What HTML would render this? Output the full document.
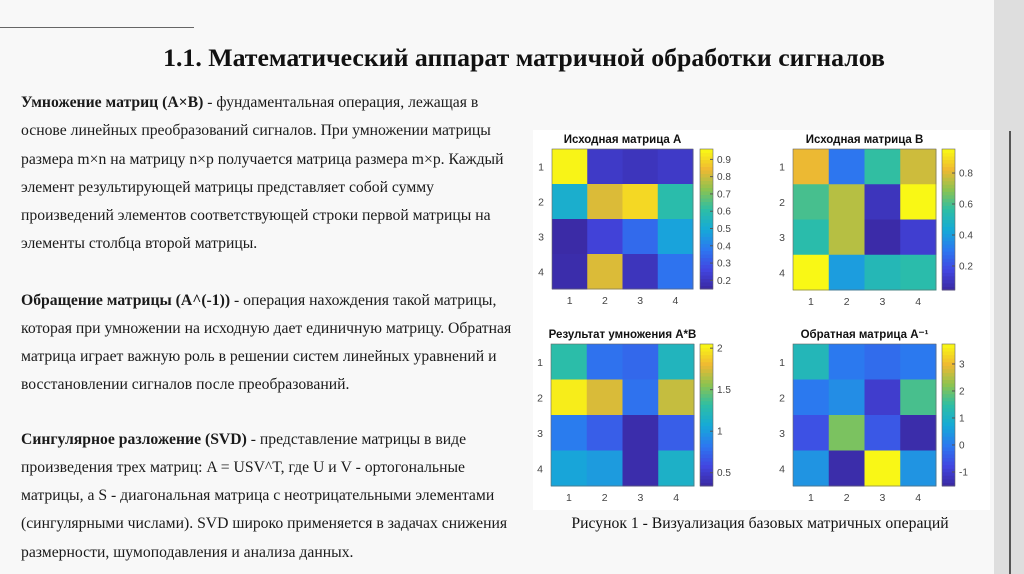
<!DOCTYPE html>
<html><head><meta charset="utf-8">
<style>
body{margin:0;width:1024px;height:574px;overflow:hidden;background:#f8f8f8;font-family:"Liberation Serif",serif;position:relative;color:#111}
.l{position:absolute;left:21px;font-size:15.7px;white-space:nowrap;line-height:18px;color:#1a1a1a}
#strip{position:absolute;left:994px;top:0;width:30px;height:574px;background:#dedede}
#vline{position:absolute;left:1009px;top:131px;width:2px;height:443px;background:#555}
#hline{position:absolute;left:0;top:27px;width:194px;height:1px;background:#666}
h1{position:absolute;left:0;width:1048px;top:43px;margin:0;text-align:center;font-size:25.8px;font-weight:bold;white-space:nowrap}
#cap{position:absolute;left:560px;width:400px;top:515px;text-align:center;font-size:15.7px;white-space:nowrap}
svg{position:absolute;left:0;top:0}
</style></head><body>
<div id="strip"></div>
<div id="vline"></div>
<div id="hline"></div>
<h1>1.1. Математический аппарат матричной обработки сигналов</h1>
<div>
<div class="l" style="top:94px"><b>Умножение матриц (A×B)</b> - фундаментальная операция, лежащая в</div>
<div class="l" style="top:122px">основе линейных преобразований сигналов. При умножении матрицы</div>
<div class="l" style="top:151px">размера m×n на матрицу n×p получается матрица размера m×p. Каждый</div>
<div class="l" style="top:179px">элемент результирующей матрицы представляет собой сумму</div>
<div class="l" style="top:207px">произведений элементов соответствующей строки первой матрицы на</div>
<div class="l" style="top:235px">элементы столбца второй матрицы.</div>
<div class="l" style="top:292px"><b>Обращение матрицы (A^(-1))</b> - операция нахождения такой матрицы,</div>
<div class="l" style="top:320px">которая при умножении на исходную дает единичную матрицу. Обратная</div>
<div class="l" style="top:348px">матрица играет важную роль в решении систем линейных уравнений и</div>
<div class="l" style="top:376px">восстановлении сигналов после преобразований.</div>
<div class="l" style="top:431px"><b>Сингулярное разложение (SVD)</b> - представление матрицы в виде</div>
<div class="l" style="top:459px">произведения трех матриц: A = USV^T, где U и V - ортогональные</div>
<div class="l" style="top:487px">матрицы, а S - диагональная матрица с неотрицательными элементами</div>
<div class="l" style="top:515px">(сингулярными числами). SVD широко применяется в задачах снижения</div>
<div class="l" style="top:544px">размерности, шумоподавления и анализа данных.</div>
</div>
<div id="cap">Рисунок 1 - Визуализация базовых матричных операций</div>
<svg id="fig" width="1024" height="574" font-family="Liberation Sans, sans-serif"></svg>
<script>
const matA=[[0.95,0.22,0.2,0.22],[0.52,0.82,0.9,0.6],[0.16,0.25,0.35,0.48],[0.17,0.82,0.2,0.37]];
const matB=[[0.82,0.3,0.57,0.78],[0.6,0.75,0.1,0.95],[0.55,0.75,0.06,0.14],[0.95,0.4,0.52,0.55]];
const matAB=[[1.3,0.8,0.75,1.2],[2.0,1.75,0.8,1.7],[0.85,0.7,0.38,0.7],[1.05,1.0,0.38,1.15]];
const matInv=[[1.2,0.0,-0.2,0.0],[0.0,0.3,-1.0,1.7],[-0.6,2.1,-0.5,-1.4],[0.4,-1.4,3.7,0.4]];
const ticksA=[0.2,0.3,0.4,0.5,0.6,0.7,0.8,0.9];
const ticksB=[0.2,0.4,0.6,0.8];
const ticksAB=[0.5,1,1.5,2];
const ticksInv=[-1,0,1,2,3];
const axisLabels=["1","2","3","4"];
const NS="http://www.w3.org/2000/svg";
const svg=document.getElementById('fig');
const stops=[[58,40,160],[66,70,225],[44,120,240],[22,170,215],[45,190,165],[140,195,80],[240,185,50],[249,250,20]];
function parula(t){t=Math.max(0,Math.min(1,t));const p=t*(stops.length-1);const i=Math.min(stops.length-2,Math.floor(p));const f=p-i;const c=stops[i].map((v,k)=>Math.round(v+(stops[i+1][k]-v)*f));return`rgb(${c})`;}
function el(tag,attrs,parent){const e=document.createElementNS(NS,tag);for(const k in attrs)e.setAttribute(k,attrs[k]);(parent||svg).appendChild(e);return e;}
const bg=el('rect',{x:533,y:130,width:457,height:380,fill:'#ffffff'});


function panel(name,title,data,ticks,vmin,vmax,x0,y0,w,h,cbx){
  const g=el('g',{});
  
  
  const cw=w/4,ch=h/4;
  const xs=c=>x0+c*cw, ys=r=>y0+r*ch;
  const norm=v=>(v-vmin)/(vmax-vmin);
  data.forEach((row,r)=>row.forEach((v,c)=>{
    const cell=el('rect',{x:xs(c),y:ys(r),width:cw+0.5,height:ch+0.5,fill:parula(norm(v))},g);
    
    
  }));
  el('rect',{x:x0,y:y0,width:w,height:h,fill:'none',stroke:'#666','stroke-width':0.6},g);
  const t=el('text',{x:x0+w/2,y:y0-6,'text-anchor':'middle','font-size':11.5,'font-weight':'bold',fill:'#111'},g);
  t.textContent=title;
  
  
  axisLabels.forEach((lb,i)=>{
    const a=el('text',{x:x0-11,y:ys(i)+ch/2+4,'text-anchor':'middle','font-size':10.5,fill:'#444'},g);a.textContent=lb;
    
    
    const b=el('text',{x:xs(i)+cw/2,y:y0+h+15,'text-anchor':'middle','font-size':10.5,fill:'#444'},g);b.textContent=lb;
    
    
  });
  const cb=el('g',{},g);
  
  
  const n=40;
  for(let i=0;i<n;i++){el('rect',{x:cbx,y:y0+h-(i+1)*h/n,width:13,height:h/n+0.5,fill:parula((i+0.5)/n)},cb);}
  el('rect',{x:cbx,y:y0,width:13,height:h,fill:'none',stroke:'#666','stroke-width':0.6},cb);
  const yv=v=>y0+h-(v-vmin)/(vmax-vmin)*h;
  ticks.forEach(v=>{
    el('line',{x1:cbx+10,x2:cbx+13,y1:yv(v),y2:yv(v),stroke:'#555'},cb);
    const tt=el('text',{x:cbx+17,y:yv(v)+3.5,'font-size':10,fill:'#444'},cb);tt.textContent=String(v);
    
    
  });
}
panel('heatmap-matrix-a','Исходная матрица A',matA,ticksA,0.15,0.96,552,149,141,140,700);
panel('heatmap-matrix-b','Исходная матрица B',matB,ticksB,0.045,0.955,793,149,143,141,942);
panel('heatmap-product-ab','Результат умножения A*B',matAB,ticksAB,0.34,2.05,551,344,143,142,700);
panel('heatmap-inverse-a','Обратная матрица A⁻¹',matInv,ticksInv,-1.52,3.74,793,344,143,142,942);
</script>
</body></html>
